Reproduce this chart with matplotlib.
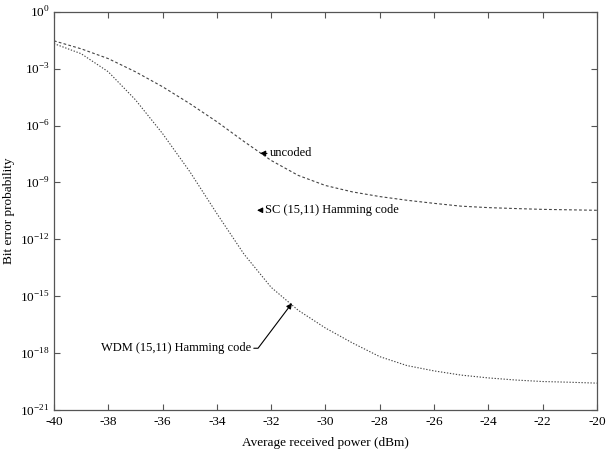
import matplotlib
matplotlib.use("Agg")
import matplotlib.pyplot as plt
from matplotlib.ticker import FixedLocator, FuncFormatter
import numpy as np

plt.rcParams['font.family'] = ['Liberation Serif', 'DejaVu Serif']
plt.rcParams['mathtext.fontset'] = 'custom'
plt.rcParams['mathtext.rm'] = 'Liberation Serif'
plt.rcParams['axes.unicode_minus'] = False

# received power (dBm)
power_dbm = [-40, -39, -38, -37, -36, -35, -34, -33, -32, -31, -30,
             -29, -28, -27, -26, -25, -24, -23, -22, -21, -20]

# bit error probability
ber_uncoded = [2.95e-2, 1.12e-2, 3.4e-3, 6.9e-4, 1.12e-4, 1.45e-5, 1.6e-6,
               1.45e-7, 1.45e-8, 2.35e-9, 6.9e-10, 3.16e-10, 1.8e-10, 1.15e-10,
               7.9e-11, 5.6e-11, 4.7e-11, 4.2e-11, 3.8e-11, 3.6e-11, 3.4e-11]
ber_wdm = [2.1e-2, 6.2e-3, 6.9e-4, 2.3e-5, 3.8e-7, 3.8e-9, 2.3e-11,
           1.66e-13, 2.95e-15, 1.8e-16, 2.1e-17, 3.4e-18, 6.5e-19, 2.2e-19,
           1.15e-19, 6.9e-20, 4.9e-20, 3.8e-20, 3.16e-20, 2.9e-20, 2.6e-20]

x_ticks = [-40, -38, -36, -34, -32, -30, -28, -26, -24, -22, -20]
y_exponents = [0, -3, -6, -9, -12, -15, -18, -21]

fig = plt.figure(figsize=(6.06, 4.54), dpi=100)
ax = fig.add_axes([0.089, 0.097, 0.896, 0.877])

line_color = '#444444'
ax.plot(power_dbm, ber_uncoded, color=line_color, linewidth=0.8,
        linestyle=(0, (2.5, 2)))
ax.plot(power_dbm, ber_wdm, color=line_color, linewidth=0.8,
        linestyle=(0, (1.2, 1.5)))

ax.set_yscale('log')
ax.set_xlim(-40, -20)
ax.set_ylim(1e-21, 1e0)

ax.xaxis.set_major_locator(FixedLocator(x_ticks))
ax.xaxis.set_major_formatter(FuncFormatter(lambda v, p: '%d' % v))
ax.yaxis.set_major_locator(FixedLocator([10.0 ** e for e in y_exponents]))
ax.yaxis.set_major_formatter(
    FuncFormatter(lambda v, p: r'$10^{%d}$' % int(round(np.log10(v)))))
ax.yaxis.set_minor_locator(FixedLocator([]))

ax.tick_params(which='both', direction='in', top=True, right=True,
               length=4, width=0.8, color='#555555', labelsize=9.5, pad=3)
ax.tick_params(axis='x', pad=4)
for side in ax.spines.values():
    side.set_color('#555555')
    side.set_linewidth(0.9)

ax.set_xlabel('Average received power (dBm)', fontsize=9.5, labelpad=7)
ax.set_ylabel('Bit error probability', fontsize=9.5)
ax.yaxis.set_label_coords(-0.072, 0.5)

arrow = dict(arrowstyle='-|>', color='black', lw=0.8,
             mutation_scale=8, shrinkA=0, shrinkB=0)

ax.annotate('uncoded', xy=(-32.41, 3.4e-8), xytext=(-32.05, 3.4e-8),
            ha='left', va='center', fontsize=9, arrowprops=arrow)
ax.annotate('SC (15,11) Hamming code', xy=(-32.52, 3.4e-11),
            xytext=(-32.22, 3.4e-11), ha='left', va='center', fontsize=9,
            arrowprops=arrow)
wdm_arrow = dict(arrow, connectionstyle='angle,angleA=0,angleB=53,rad=0',
                 relpos=(1.0, 0.5))
ax.annotate('WDM (15,11) Hamming code', xy=(-31.23, 4.3e-16),
            xytext=(-32.74, 1.8e-18), ha='right', va='center', fontsize=9,
            arrowprops=wdm_arrow)

fig.savefig('out.png', dpi=100)
